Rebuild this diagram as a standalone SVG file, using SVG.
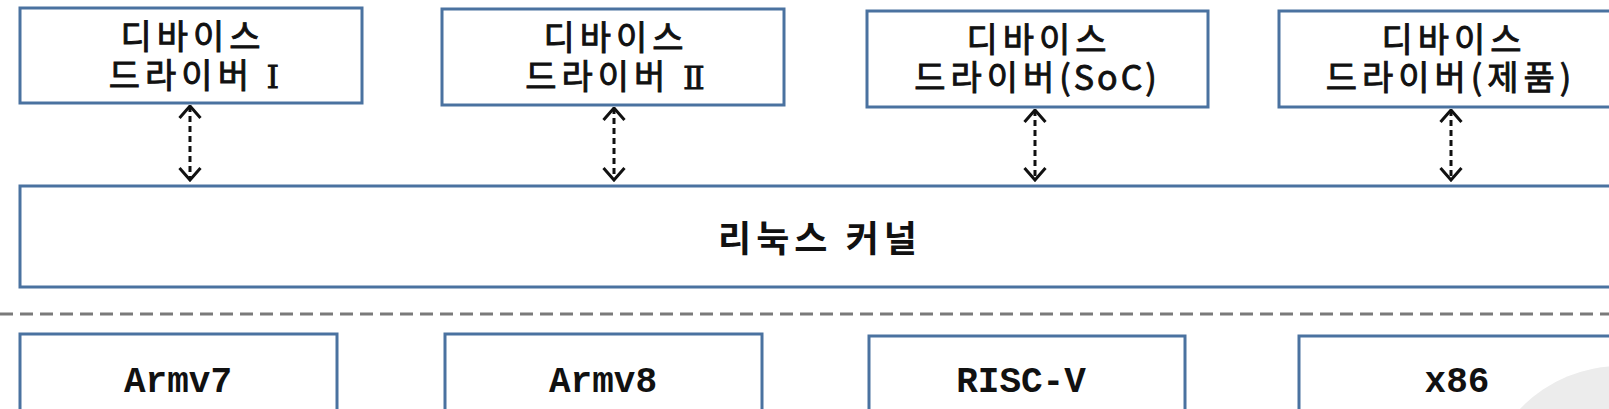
<svg xmlns="http://www.w3.org/2000/svg" width="1609" height="409" viewBox="0 0 1609 409">
<style>
.box{fill:#ffffff;stroke:#4a72a0;stroke-width:3}
.t{font-family:"Noto Sans CJK KR","Noto Sans",sans-serif;font-size:34px;fill:#111;stroke:#111;stroke-width:0.9px;text-anchor:middle;letter-spacing:5px}
.k{font-family:"Noto Sans CJK KR","Noto Sans",sans-serif;font-size:36px;font-weight:bold;fill:#111;text-anchor:middle;letter-spacing:5px}
.a{font-family:"Liberation Mono","Courier New",monospace;font-size:36px;font-weight:bold;fill:#111;text-anchor:middle}
.rn{font-family:"DejaVu Serif","Liberation Serif",serif;font-size:32px;stroke-width:0.8px;letter-spacing:0}
.p{letter-spacing:3px}
.conn{stroke:#111;stroke-width:3;stroke-dasharray:6 4;fill:none;marker-start:url(#chev);marker-end:url(#chev)}
.sep{stroke:#7a7a7a;stroke-width:3;stroke-dasharray:13 7;fill:none}
</style>
<defs>
<marker id="chev" viewBox="0 0 15 24" refX="13.5" refY="12" markerWidth="15" markerHeight="24" markerUnits="userSpaceOnUse" orient="auto-start-reverse">
<path d="M1.5,1.5 L13.5,12 L1.5,22.5" fill="none" stroke="#111" stroke-width="3"/>
</marker>
</defs>
<rect width="1609" height="409" fill="#ffffff"/>
<g id="driver1">
<rect class="box" x="20" y="8" width="342" height="95"/>
<text class="t" x="193" y="49">디바이스</text>
<text class="t" x="194" y="88">드라이버 <tspan class="rn">Ⅰ</tspan></text>
</g>
<g id="driver2">
<rect class="box" x="442" y="9" width="342" height="96"/>
<text class="t" x="616" y="50">디바이스</text>
<text class="t" x="615" y="89">드라이버 <tspan class="rn">Ⅱ</tspan></text>
</g>
<g id="driver3">
<rect class="box" x="867" y="11" width="341" height="96"/>
<text class="t" x="1039" y="52">디바이스</text>
<text class="t" x="1037" y="90">드라이버<tspan class="p">(SoC)</tspan></text>
</g>
<g id="driver4">
<rect class="box" x="1279" y="11" width="346" height="96"/>
<text class="t" x="1454" y="52">디바이스</text>
<text class="t" x="1451" y="90">드라이버(제품)</text>
</g>
<g id="kernel">
<rect class="box" x="20" y="186" width="1600" height="101"/>
<text class="k" x="820" y="252">리눅스 커널</text>
</g>
<line class="sep" x1="0" y1="314" x2="1609" y2="314"/>
<circle cx="1620" cy="504" r="138" fill="#ececec"/>
<g id="armv7">
<rect class="box" x="20" y="334" width="317" height="100"/>
<text class="a" x="178" y="392">Armv7</text>
</g>
<g id="armv8">
<rect class="box" x="445" y="334" width="317" height="100"/>
<text class="a" x="603" y="392">Armv8</text>
</g>
<g id="riscv">
<rect class="box" x="869" y="336" width="316" height="100"/>
<text class="a" x="1021" y="392">RISC-V</text>
</g>
<g id="x86">
<rect class="box" x="1299" y="336" width="330" height="100" style="fill:none"/>
<text class="a" x="1457" y="392">x86</text>
</g>
<g id="connectors">
<line class="conn" x1="190" y1="106" x2="190" y2="180"/>
<line class="conn" x1="614" y1="108" x2="614" y2="180"/>
<line class="conn" x1="1035" y1="110" x2="1035" y2="180"/>
<line class="conn" x1="1451" y1="110" x2="1451" y2="180"/>
</g>
</svg>
